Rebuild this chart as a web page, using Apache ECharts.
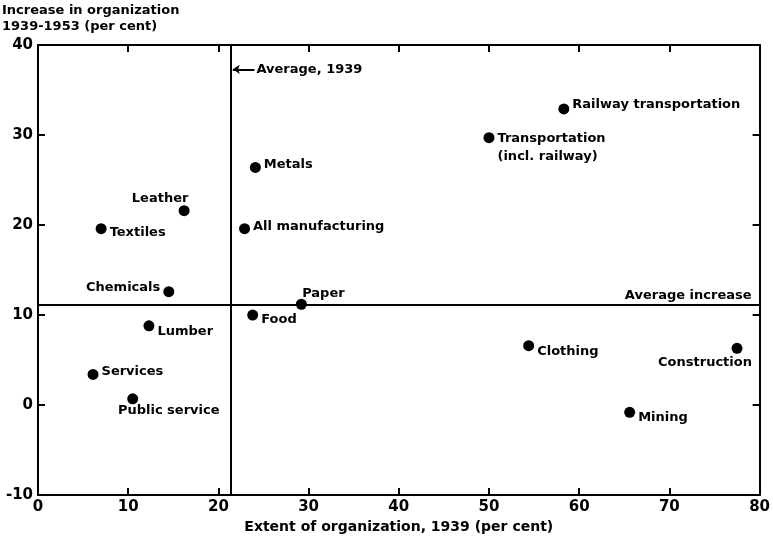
<!DOCTYPE html>
<html>
<head>
<meta charset="utf-8">
<script src="https://cdn.jsdelivr.net/npm/echarts@6/dist/echarts.min.js"></script>
<style>
  html, body { margin: 0; padding: 0; background: #fff; }
  #chart { width: 773px; height: 539px; }
</style>
</head>
<body>
<div id="chart"></div>
<script>
// industries, extent of organization 1939 (x) and increase 1939-1953 (y)
var industries = ['Railway transportation', 'Transportation\n(incl. railway)', 'Metals', 'All manufacturing',
  'Leather', 'Textiles', 'Chemicals', 'Paper', 'Food', 'Lumber', 'Services', 'Public service',
  'Clothing', 'Construction', 'Mining'];
var extent1939 = [58.3, 50.0, 24.1, 22.9, 16.2, 7.0, 14.5, 29.2, 23.8, 12.3, 6.1, 10.5, 54.4, 77.5, 65.6];
var increase = [32.9, 29.7, 26.4, 19.6, 21.6, 19.6, 12.6, 11.2, 10.0, 8.8, 3.4, 0.7, 6.6, 6.3, -0.8];

var averageExtent = 21.4;
var averageIncrease = 11.1;

// label placement for each point
var labelPlace = [
  { position: 'right', offset: [0, -4] },
  { position: 'right', offset: [0, 10] },
  { position: 'right', offset: [0, -3] },
  { position: 'right', offset: [0, -2] },
  { position: 'inside', offset: [-24, -12] },
  { position: 'right', offset: [0, 4] },
  { position: 'left', offset: [0, -4] },
  { position: 'inside', offset: [22, -11] },
  { position: 'right', offset: [0, 5] },
  { position: 'right', offset: [0, 6] },
  { position: 'right', offset: [0, -3] },
  { position: 'inside', offset: [36, 12] },
  { position: 'right', offset: [0, 6] },
  { position: 'inside', offset: [-32, 14] },
  { position: 'right', offset: [0, 5] }
];

var font = 'DejaVu Sans';
var ink = '#000';

var chart = echarts.init(document.getElementById('chart'));

var points = industries.map(function (name, i) {
  var pos = labelPlace[i].position;
  return {
    name: name,
    value: [extent1939[i], increase[i]],
    label: {
      show: true,
      position: pos,
      offset: labelPlace[i].offset,
      distance: 3,
      formatter: '{b}',
      color: ink,
      fontFamily: font,
      fontWeight: 'bold',
      fontSize: 13,
      lineHeight: 18,
      align: pos === 'left' ? 'right' : (pos === 'inside' ? 'center' : 'left')
    }
  };
});

function axisCommon(show) {
  return {
    axisLine: { show: true, onZero: false, lineStyle: { color: ink, width: 2 } },
    axisTick: { show: true, inside: true, length: 7, lineStyle: { color: ink, width: 2 } },
    splitLine: { show: false },
    axisLabel: {
      show: show, color: ink, fontFamily: font, fontWeight: 'bold', fontSize: 15, margin: 5
    }
  };
}

var option = {
  backgroundColor: '#fff',
  animation: false,
  grid: { left: 38, right: 10, top: 45, bottom: 41 },
  xAxis: [
    Object.assign(axisCommon(true), {
      type: 'value', min: 0, max: 80, interval: 10, position: 'bottom',
      name: 'Extent of organization, 1939 (per cent)',
      nameLocation: 'middle', nameGap: 21,
      nameTextStyle: { color: ink, fontFamily: font, fontWeight: 'bold', fontSize: 14 }
    }),
    Object.assign(axisCommon(false), {
      type: 'value', min: 0, max: 80, interval: 10, position: 'top'
    })
  ],
  yAxis: [
    Object.assign(axisCommon(true), {
      type: 'value', min: -10, max: 40, interval: 10, position: 'left'
    }),
    Object.assign(axisCommon(false), {
      type: 'value', min: -10, max: 40, interval: 10, position: 'right'
    })
  ],
  graphic: [
    {
      type: 'text', left: 2, top: 3,
      style: {
        text: 'Increase in organization\n1939-1953 (per cent)',
        fill: ink, font: 'bold 13px "DejaVu Sans"', lineHeight: 16
      }
    }
  ],
  series: [
    {
      type: 'scatter',
      xAxisIndex: 0,
      yAxisIndex: 0,
      symbol: 'circle',
      symbolSize: 11,
      itemStyle: { color: ink, opacity: 1 },
      data: points,
      markLine: {
        silent: true,
        symbol: 'none',
        lineStyle: { color: ink, width: 2, type: 'solid', opacity: 1 },
        label: { color: ink, fontFamily: font, fontWeight: 'bold', fontSize: 13 },
        data: [
          { xAxis: averageExtent, label: { show: false } },
          {
            yAxis: averageIncrease,
            label: { show: true, position: 'insideEndTop', formatter: 'Average increase', distance: [8, 3] }
          },
          [
            { coord: [averageExtent + 0.2, 37.3], symbol: 'arrow', symbolSize: 7 },
            {
              coord: [averageExtent + 2.6, 37.3], symbol: 'none',
              label: { show: true, position: 'end', formatter: 'Average, 1939', distance: 2 }
            }
          ]
        ]
      }
    }
  ]
};

chart.setOption(option);
</script>
</body>
</html>
